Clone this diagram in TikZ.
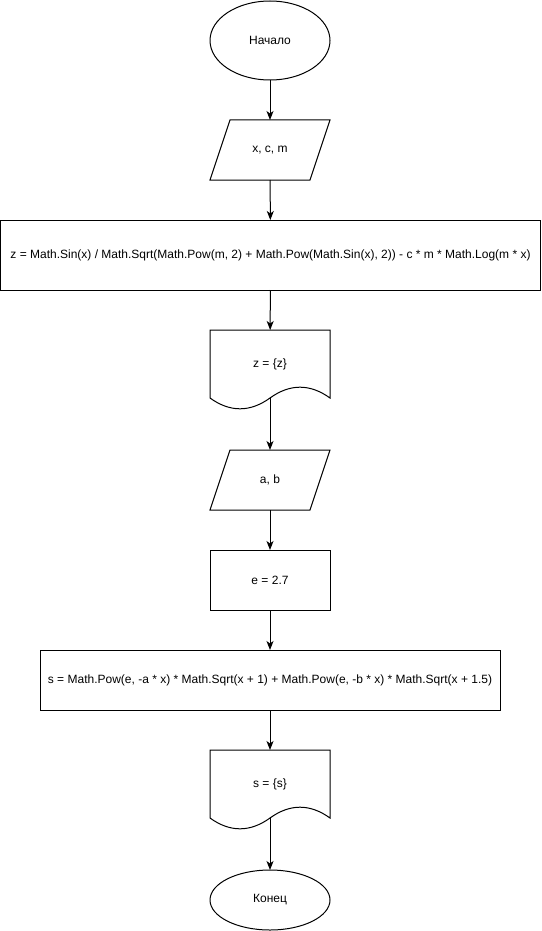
\documentclass[tikz,border=0pt]{standalone}
\usepackage{fontspec}
\setmainfont{Liberation Sans}
\usetikzlibrary{shapes.geometric,arrows.meta}
\begin{document}
\begin{tikzpicture}[x=1pt,y=-1pt,
  base/.style={inner sep=0pt,outer sep=0pt,font=\fontsize{12}{14}\selectfont},
  term/.style={base,draw,line width=1pt,ellipse,minimum width=120pt},
  procbox/.style={base,draw,line width=1pt,rectangle,minimum height=60pt},
  iobox/.style={base,rectangle,minimum width=120pt,minimum height=60pt},
  docbox/.style={base,rectangle,minimum width=120pt,minimum height=68pt},
  shapeline/.style={line width=1pt},
  flow/.style={line width=1pt,-{Stealth[length=9pt,width=7pt,inset=2.5pt]}}]
\useasboundingbox (0,0) rectangle (541,931);
% nodes
\node[term,minimum height=79pt] (start) at (270,40.5) {Начало};
\node[iobox] (in1) at (270,150) {x, c, m};
\node[procbox,minimum width=540pt,minimum height=70pt] (calc1) at (270.5,255) {z = Math.Sin(x) / Math.Sqrt(Math.Pow(m, 2) + Math.Pow(Math.Sin(x), 2)) - c * m * Math.Log(m * x)};
\node[docbox] (out1) at (270,364) {z = \{z\}};
\node[iobox] (in2) at (270,480) {a, b};
\node[procbox,minimum width=120pt] (econst) at (270,580) {e = 2.7};
\node[procbox,minimum width=460pt] (calc2) at (270,680) {s = Math.Pow(e, -a * x) * Math.Sqrt(x + 1) + Math.Pow(e, -b * x) * Math.Sqrt(x + 1.5)};
\node[docbox] (out2) at (270,784) {s = \{s\}};
\node[term,minimum height=60pt] (stop) at (270,900) {Конец};
% parallelograms
\draw[shapeline] ([xshift=20pt]in1.north west) -- (in1.north east) -- ([xshift=-20pt]in1.south east) -- (in1.south west) -- cycle;
\draw[shapeline] ([xshift=20pt]in2.north west) -- (in2.north east) -- ([xshift=-20pt]in2.south east) -- (in2.south west) -- cycle;
% documents
\foreach \d in {out1,out2}{
  \draw[shapeline] (\d.north west) -- (\d.north east) -- (\d.south east)
    .. controls ([xshift=-20pt,yshift=14.4pt]\d.south east) and ([xshift=20pt,yshift=14.4pt]\d.south) .. (\d.south)
    .. controls ([xshift=-20pt,yshift=-14.4pt]\d.south) and ([xshift=20pt,yshift=-14.4pt]\d.south west) .. (\d.south west)
    -- cycle;
}
% connectors
\draw[flow] (start) -- (in1);
\draw[flow] (in1) -- (calc1);
\draw[flow] (calc1) -- (out1);
\draw[flow] (out1.south) -- (in2);
\draw[flow] (in2) -- (econst);
\draw[flow] (econst) -- (calc2);
\draw[flow] (calc2) -- (out2);
\draw[flow] (out2.south) -- (stop);
\end{tikzpicture}
\end{document}
